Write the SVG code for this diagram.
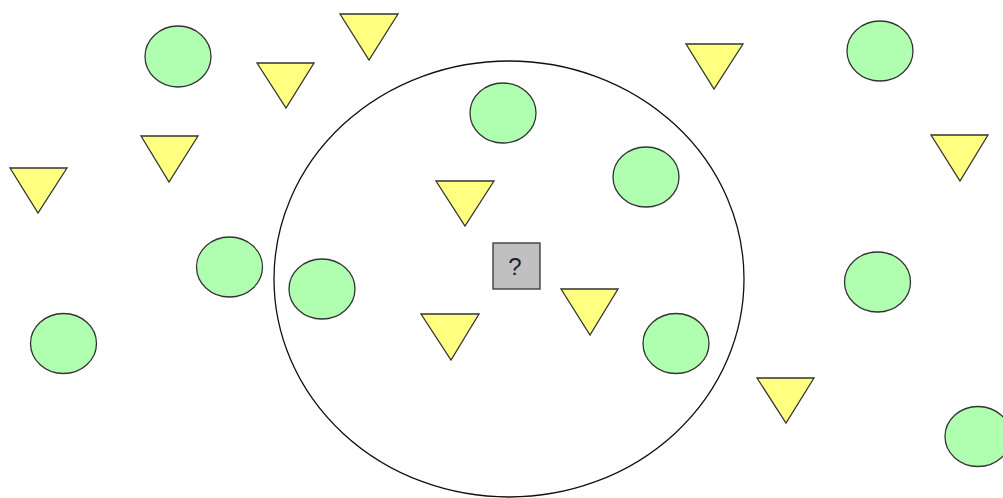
<svg xmlns="http://www.w3.org/2000/svg" width="1003" height="498" viewBox="0 0 1003 498">
<style>
.c{fill:#b0ffb0;stroke:#333;stroke-width:1.3}
.t{fill:#ffff80;stroke:#333;stroke-width:1.3}
.big{fill:none;stroke:#111;stroke-width:1.3}
.q{font-family:"Liberation Sans",Arial,sans-serif;font-size:24px;fill:#222;text-anchor:middle}
</style>
<rect width="1003" height="498" fill="#fff"/>
<g id="boundary"><ellipse class="big" cx="509" cy="279" rx="235" ry="218"/></g>
<g id="circles">
<ellipse class="c" cx="178" cy="56.5" rx="33" ry="30.5"/>
<ellipse class="c" cx="503" cy="113" rx="33" ry="30"/>
<ellipse class="c" cx="646" cy="177" rx="33" ry="30"/>
<ellipse class="c" cx="322" cy="289" rx="33" ry="30"/>
<ellipse class="c" cx="676" cy="343.5" rx="33" ry="30"/>
<ellipse class="c" cx="63.5" cy="343.5" rx="33" ry="30"/>
<ellipse class="c" cx="229.5" cy="267" rx="33" ry="30"/>
<ellipse class="c" cx="880" cy="51" rx="33" ry="30"/>
<ellipse class="c" cx="877.5" cy="282" rx="33" ry="30"/>
<ellipse class="c" cx="978" cy="436.5" rx="33" ry="30"/>
</g>
<g id="triangles">
<polygon class="t" points="257,63 314,63 286,108"/>
<polygon class="t" points="340,14 398,14 369,60"/>
<polygon class="t" points="436,181 494,181 465,226"/>
<polygon class="t" points="421,314 479,314 451,360"/>
<polygon class="t" points="561,289 618,289 590,335"/>
<polygon class="t" points="10,168 67,168 38,213"/>
<polygon class="t" points="141,136 198,136 169,182"/>
<polygon class="t" points="686,44 743,44 714,89"/>
<polygon class="t" points="931,135 988,135 960,181"/>
<polygon class="t" points="757,378 814,378 786,423"/>
</g>
<g id="unknown">
<rect x="493" y="243" width="47" height="46" fill="#c0c0c0" stroke="#333" stroke-width="1.3"/>
<text class="q" x="515" y="275">?</text>
</g>
</svg>
